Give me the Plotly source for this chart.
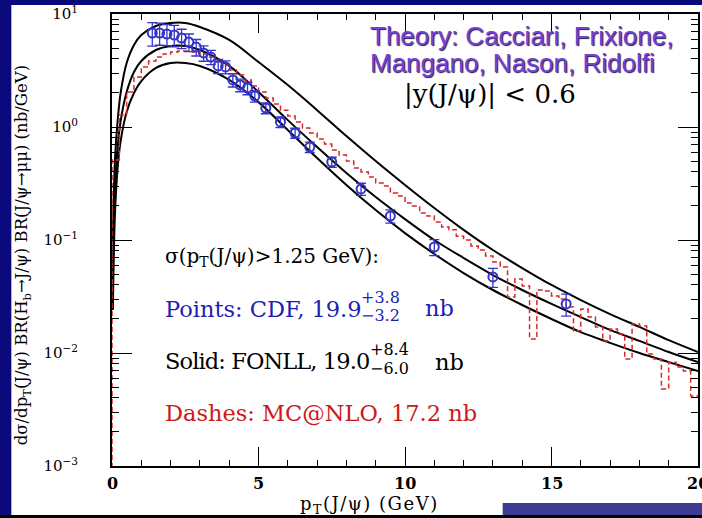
import plotly.graph_objects as go

# ---------------- data ----------------
# FONLL curves (solid): pT grid and upper / central / lower values (nb/GeV)
fonll_pt = [0.03, 0.1, 0.2, 0.3, 0.5, 0.75, 1.0, 1.5, 2.0, 2.5, 3.0, 4.0, 5.0, 6.0, 7.0,
            8.0, 9.0, 10.0, 11.0, 12.0, 13.0, 14.0, 15.0, 16.0, 17.0, 18.0, 19.0, 20.0]
fonll_upper = [0.10, 0.51, 1.20, 2.04, 3.68, 5.32, 6.52, 7.83, 8.32, 8.32, 7.67, 5.89, 3.76, 2.35, 1.41,
               0.832, 0.50, 0.307, 0.192, 0.123, 0.0816, 0.0565, 0.040, 0.0294, 0.0221, 0.0170, 0.0130, 0.0102]
fonll_central = [0.0443, 0.277, 0.693, 1.15, 2.04, 3.07, 3.84, 4.80, 5.21, 5.21, 4.80, 3.47, 2.04, 1.15, 0.665,
                 0.392, 0.240, 0.153, 0.100, 0.0693, 0.0490, 0.0361, 0.0272, 0.0208, 0.0160, 0.0128, 0.0102, 0.0083]
fonll_lower = [0.024, 0.166, 0.461, 0.767, 1.36, 2.00, 2.55, 3.33, 3.68, 3.68, 3.47, 2.61, 1.66, 0.941, 0.532,
               0.307, 0.184, 0.115, 0.0752, 0.0510, 0.0361, 0.0266, 0.0200, 0.0153, 0.0123, 0.0100, 0.0083, 0.00693]

# MC@NLO histogram (dashed): left bin edges (0.25 GeV bins) and contents
mc_edges = [0.0, 0.25, 0.5, 0.75, 1.0, 1.25, 1.5, 1.75, 2.0, 2.25, 2.5, 2.75, 3.0, 3.25, 3.5, 3.75,
            4.0, 4.25, 4.5, 4.75, 5.0, 5.25, 5.5, 5.75, 6.0, 6.25, 6.5, 6.75, 7.0, 7.25, 7.5, 7.75,
            8.0, 8.25, 8.5, 8.75, 9.0, 9.25, 9.5, 9.75, 10.0, 10.25, 10.5, 10.75, 11.0, 11.25, 11.5, 11.75,
            12.0, 12.25, 12.5, 12.75, 13.0, 13.25, 13.5, 13.75, 14.0, 14.25, 14.5, 14.75, 15.0, 15.25, 15.5, 15.75,
            16.0, 16.25, 16.5, 16.75, 17.0, 17.25, 17.5, 17.75, 18.0, 18.25, 18.5, 18.75, 19.0, 19.25, 19.5, 19.75]
mc_values = [0.51, 1.28, 2.04, 2.77, 3.40, 3.84, 4.16, 4.43, 4.61, 4.71, 4.71, 4.61, 4.43, 4.16, 3.84, 3.54,
             3.19, 2.89, 2.61, 2.31, 2.04, 1.81, 1.60, 1.41, 1.25, 1.11, 0.98, 0.885, 0.783, 0.707, 0.626, 0.565,
             0.50, 0.434, 0.40, 0.361, 0.319, 0.30, 0.26, 0.245, 0.212, 0.20, 0.173, 0.163, 0.144, 0.130, 0.123, 0.108,
             0.100, 0.0885, 0.0816, 0.0722, 0.0639, 0.0577, 0.0313, 0.0452, 0.0392, 0.0133, 0.0361, 0.0354, 0.0319, 0.030,
             0.0255, 0.0157, 0.0245, 0.0208, 0.0170, 0.0128, 0.0163, 0.0147, 0.00885, 0.0181, 0.0173, 0.0098, 0.00885, 0.0048,
             0.0083, 0.0075, 0.00693, 0.00416]
mc_end = 20.0

# CDF data points
cdf_pt = [1.375, 1.625, 1.875, 2.125, 2.375, 2.625, 2.875, 3.125, 3.375, 3.625, 3.875, 4.125, 4.375,
          4.625, 4.875, 5.25, 5.75, 6.25, 6.75, 7.5, 8.5, 9.5, 11.0, 13.0, 15.5]
cdf_val = [6.79, 6.79, 6.65, 6.52, 6.13, 5.65, 5.10, 4.52, 4.16, 3.47, 3.40, 2.61, 2.35,
           2.21, 1.88, 1.47, 1.11, 0.885, 0.665, 0.49, 0.283, 0.163, 0.0867, 0.0471, 0.0272]
cdf_err = [1.6, 1.5, 1.4, 1.4, 1.2, 1.0, 0.85, 0.7, 0.6, 0.5, 0.45, 0.35, 0.3,
           0.28, 0.22, 0.16, 0.12, 0.09, 0.07, 0.05, 0.035, 0.022, 0.014, 0.009, 0.006]

x_ticks = [0, 5, 10, 15, 20]
x_ticktext = ["0", "5", "10", "15", "20"]
y_ticks = [0.001, 0.01, 0.1, 1, 10]
y_ticktext = ["10<sup>\u22123</sup>", "10<sup>\u22122</sup>", "10<sup>\u22121</sup>", "10<sup>0</sup>", "10<sup>1</sup>"]

# ---------------- figure ----------------
W, H = 702, 518
ML, MR, MT, MB = 112, 2, 14, 52
PW, PH = W - ML - MR, H - MT - MB


def px(xpix):
    return (xpix - ML) / PW


def py(ypix):
    return (H - MB - ypix) / PH


fig = go.Figure()

for yv in (fonll_upper, fonll_central, fonll_lower):
    fig.add_trace(go.Scatter(x=fonll_pt, y=yv, mode="lines", line=dict(color="black", width=2, shape="spline"),
                             hoverinfo="skip", showlegend=False))

hx = [mc_edges[0]] + mc_edges + [mc_end]
hy = [1e-5] + mc_values + [mc_values[-1]]
fig.add_trace(go.Scatter(x=hx, y=hy, mode="lines", line=dict(color="#d42a2a", width=1.5, shape="hv", dash="5px,3px"),
                         hoverinfo="skip", showlegend=False))

fig.add_trace(go.Scatter(x=cdf_pt, y=cdf_val, mode="markers",
                         marker=dict(symbol="circle-open", size=9, color="#3434c8", line=dict(width=2, color="#3434c8")),
                         error_y=dict(type="data", array=cdf_err, visible=True, color="#3434c8", thickness=1.3, width=5),
                         hoverinfo="skip", showlegend=False))

serif = "DejaVu Serif"
axis_common = dict(showline=True, linecolor="black", linewidth=2, mirror="allticks", ticks="inside",
                   tickcolor="black", showgrid=False, zeroline=False)

fig.update_xaxes(range=[0, 20], tickvals=x_ticks, ticklen=19, tickwidth=1.4, showticklabels=False,
                 minor=dict(ticks="inside", ticklen=6, tickwidth=1.2, dtick=1, tickcolor="black", showgrid=False),
                 **axis_common)
fig.update_yaxes(type="log", range=[-3, 1], tickvals=y_ticks, ticktext=y_ticktext, ticklen=20, tickwidth=1.4,
                 minor=dict(ticks="inside", ticklen=7, tickwidth=1.2, dtick="D1", tickcolor="black", showgrid=False),
                 ticklabelstandoff=29, tickfont=dict(family=serif, size=15, color="black"), **axis_common)

shapes = [
    dict(type="rect", xref="paper", yref="paper", x0=px(11), x1=px(W + 5), y0=py(515), y1=py(5),
         fillcolor="white", line=dict(width=0), layer="below"),
    dict(type="rect", xref="paper", yref="paper", x0=px(-5), x1=px(W + 5), y0=py(H + 5), y1=py(515),
         fillcolor="black", line=dict(width=0), layer="below"),
    dict(type="rect", xref="paper", yref="paper", x0=px(504), x1=px(W + 5), y0=py(515), y1=py(503),
         fillcolor="#3d3b94", line=dict(width=0), layer="below"),
]

ann = []


def add_text(text, xpix, ypix, size, color="black", family=serif, xanchor="left", **kw):
    font = dict(family=family, size=size, color=color)
    font.update(kw.pop("fontextra", {}))
    ann.append(dict(text=text, x=px(xpix), y=py(ypix), xref="paper", yref="paper", xanchor=xanchor,
                    yanchor="middle", showarrow=False, font=font, **kw))


# x tick labels placed on the data axis
for xv, xt in zip(x_ticks, x_ticktext):
    ann.append(dict(text="<b>" + xt + "</b>", x=xv, y=py(483), xref="x", yref="paper", xanchor="center",
                    yanchor="middle", showarrow=False, font=dict(family=serif, size=16, color="black")))

add_text("\u03c3(p<sub>T</sub>(J/\u03c8)>1.25 GeV):", 163, 257, 20)
add_text("Points: CDF, 19.9", 163, 309, 22.5, color="#1e1eb4")
add_text("+3.8", 360, 297, 16, color="#1e1eb4")
add_text("\u22123.2", 360, 315, 16, color="#1e1eb4")
add_text("nb", 424, 308, 22.5, color="#1e1eb4")
add_text("<span style='letter-spacing:-0.9px'>Solid: FONLL, 19.0</span>", 163, 361, 22.5)
add_text("+8.4", 369, 349, 16)
add_text("\u22126.0", 369, 368, 16)
add_text("nb", 434, 362, 22.5)
add_text("Dashes: MC@NLO, 17.2 nb", 163, 413, 22.5, color="#cc1a1a")
add_text("Theory: Cacciari, Frixione,", 369, 36, 26, color="#7440d8", family="Liberation Sans",
         fontextra=dict(shadow="1px 1px 1px #1c1c50"))
add_text("Mangano, Nason, Ridolfi", 369, 63, 26, color="#7440d8", family="Liberation Sans",
         fontextra=dict(shadow="1px 1px 1px #1c1c50"))
add_text("|y(J/\u03c8)| < 0.6", 403, 94, 26)
add_text("<span style='letter-spacing:1.5px'>p<sub>T</sub>(J/\u03c8) (GeV)</span>", 370, 505, 18, xanchor="center")
ann.append(dict(text="d\u03c3/dp<sub>T</sub>(J/\u03c8) BR(H<sub>b</sub>\u2192J/\u03c8) BR(J/\u03c8\u2192\u03bc\u03bc) (nb/GeV)",
                x=px(22), y=py(255), xref="paper", yref="paper", xanchor="center", yanchor="middle",
                textangle=-90, showarrow=False, font=dict(family=serif, size=16.5, color="black")))

fig.update_layout(width=W, height=H, margin=dict(l=ML, r=MR, t=MT, b=MB),
                  paper_bgcolor="#0a0a7c", plot_bgcolor="white", shapes=shapes, annotations=ann,
                  showlegend=False)

fig.write_html("out.html")
